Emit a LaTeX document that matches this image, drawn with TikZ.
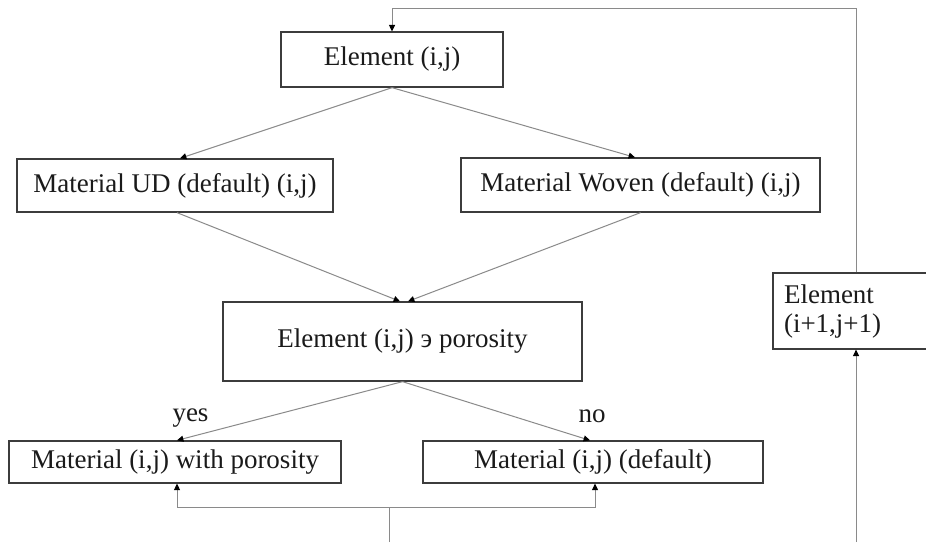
\documentclass[tikz,border=0pt]{standalone}
\usepackage{fontspec}
\setmainfont{Liberation Serif}
\usetikzlibrary{arrows.meta,calc,positioning}
\definecolor{cink}{HTML}{1A1A1A}
\definecolor{cframe}{HTML}{3C3C3C}
\definecolor{cline}{HTML}{8A8A8A}

\begin{document}
\begin{tikzpicture}[x=0.5pt, y=-0.5pt,
    blk/.style={draw=cframe, line width=0.65pt, inner sep=0pt, text=cink,
                font=\fontsize{13.5}{14.5}\selectfont},
    lab/.style={inner sep=0pt, text=cink, font=\fontsize{13.5}{14.5}\selectfont},
    pt/.style={-{Triangle[length=3.2pt,width=3pt,color=black]}, cline, line width=0.5pt},
    ln/.style={cline, line width=0.5pt}]
  \useasboundingbox[fill=white] (0,0) rectangle (926,542);

  \node[blk, minimum width=111pt, minimum height=27.5pt] (el) at (392,59.5) {Element (i,j)};
  \node[blk, minimum width=158pt, minimum height=26.5pt] (ud) at (175,185.5) {Material UD (default) (i,j)};
  \node[blk, minimum width=179.5pt, minimum height=27pt] (wv) at (640.5,185) {Material Woven (default) (i,j)};
  \node[blk, minimum width=179.5pt, minimum height=39.5pt] (por) at (402.5,341.5) {Element (i,j) э porosity};
  \node[blk, minimum width=166pt, minimum height=21pt] (wp) at (175,462) {Material (i,j) with porosity};
  \node[blk, minimum width=170pt, minimum height=21pt] (df) at (593,462) {Material (i,j) (default)};
  \node[blk, text width=67.5pt, inner xsep=5.5pt, minimum height=38pt, align=left] (nx) at (851.5,311) {Element\\(i+1,j+1)};

  \node[lab, anchor=base] (yes) at (190.5,421) {yes};
  \node[lab, anchor=base] (no) at (592,422) {no};

  \coordinate (top) at (856,8);
  \coordinate (nb) at (856,542);
  \coordinate (fk) at (389,507);
  \coordinate (fb) at (389,542);

  \draw[pt] (el.south) -- ([xshift=2.5pt]ud.north);
  \draw[pt] (el.south) -- ([xshift=-2.75pt]wv.north);
  \draw[pt] ([xshift=1pt]ud.south) -- ([xshift=-1.25pt]por.north);
  \draw[pt] (wv.south) -- ([xshift=2.75pt]por.north);
  \draw[pt] (por.south) -- ([xshift=1pt]wp.north);
  \draw[pt] (por.south) -- ([xshift=-1.5pt]df.north);
  \draw[pt] (fb) -- (fk) -| ([xshift=1pt]wp.south);
  \draw[pt] (fk) -| ([xshift=1pt]df.south);
  \draw[pt] (nb) -- (nb |- nx.south);
  \draw[pt] (nx.north -| top) -- (top) -| (el.north);
\end{tikzpicture}
\end{document}
